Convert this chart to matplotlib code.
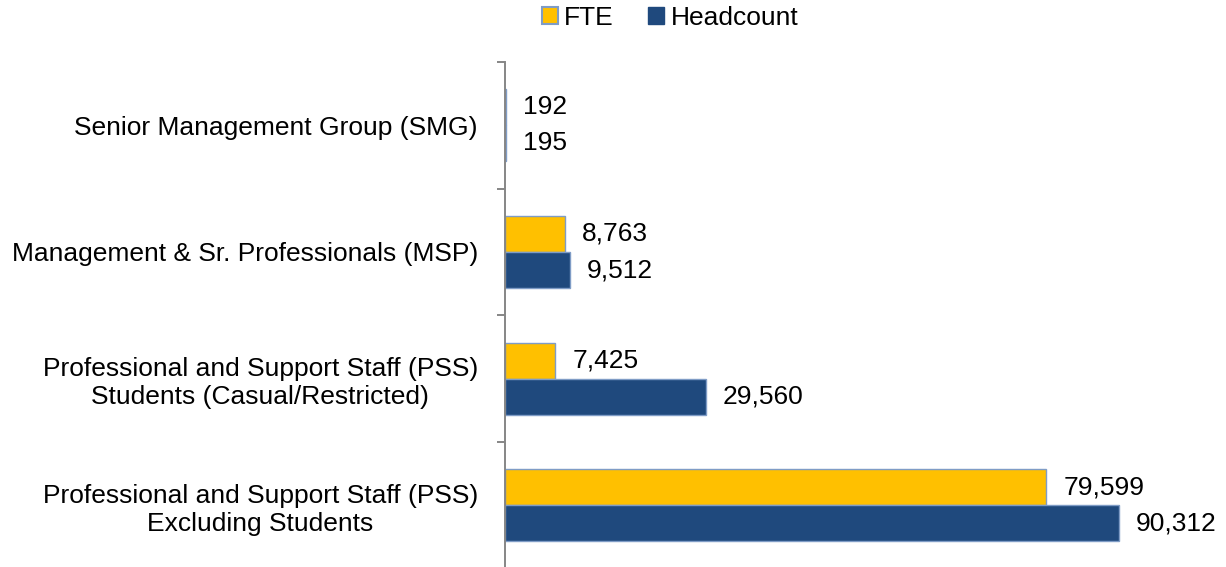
import matplotlib
matplotlib.use("Agg")
import matplotlib.pyplot as plt
from matplotlib.patches import Patch

categories = [
    "Senior Management Group (SMG)",
    "Management & Sr. Professionals (MSP)",
    "Professional and Support Staff (PSS)\nStudents (Casual/Restricted)",
    "Professional and Support Staff (PSS)\nExcluding Students",
]
fte = [192, 8763, 7425, 79599]
headcount = [195, 9512, 29560, 90312]
series_names = ["FTE", "Headcount"]

plt.rcParams['font.family'] = ['Liberation Sans', 'DejaVu Sans']
FS = 19

fig = plt.figure(figsize=(12.26, 5.67), dpi=100)
ax = fig.add_axes([505/1226, -0.003, (1185-505)/1226, 0.8937])

gold = "#FFC000"
navy = "#1F497D"
edge = "#7F9CC6"

n = len(categories)
ypos = [n - 1 - i for i in range(n)]
h = 0.285

b1 = ax.barh([y + h/2 for y in ypos], fte, height=h, color=gold, edgecolor=edge, linewidth=1)
b2 = ax.barh([y - h/2 for y in ypos], headcount, height=h, color=navy, edgecolor=edge, linewidth=1)

for bars, vals in ((b1, fte), (b2, headcount)):
    for rect, v in zip(bars, vals):
        ax.annotate(f"{v:,}", xy=(rect.get_width(), rect.get_y() + rect.get_height()/2),
                    xytext=(12.2, 0), textcoords="offset points", va="center", ha="left",
                    fontsize=FS, color="black")

ax.set_xlim(0, 100000)
ax.set_ylim(-0.5, n - 0.5)
ax.set_yticks(ypos)
ax.set_yticklabels(categories, fontsize=FS, multialignment="center")
ax.tick_params(axis="y", which="major", length=0, pad=27*0.72)
ax.set_yticks([i - 0.5 for i in range(n + 1)], minor=True)
ax.tick_params(axis="y", which="minor", length=8*0.72, width=1.4, color="#868686")
ax.set_xticks([])
for s in ("top", "right", "bottom"):
    ax.spines[s].set_visible(False)
ax.spines["left"].set_color("#868686")
ax.spines["left"].set_linewidth(1.4)

handles = [Patch(facecolor=gold, edgecolor=edge, linewidth=1.5),
           Patch(facecolor=navy, edgecolor=navy, linewidth=1)]
fig.legend(handles, series_names, loc="center", bbox_to_anchor=(670/1226, 1 - 18/567),
           ncol=2, frameon=False, fontsize=FS, handlelength=0.6, handleheight=0.6,
           handletextpad=0.25, columnspacing=1.3, borderaxespad=0, borderpad=0)

fig.savefig("out.png", dpi=100)
